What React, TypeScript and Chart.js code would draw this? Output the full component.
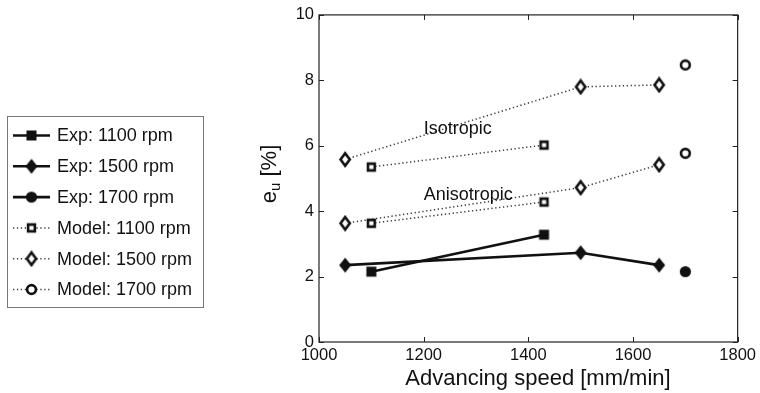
import React, { useEffect, useRef } from "react";
import { Chart, registerables } from "chart.js";

Chart.register(...registerables);

// ---- Data ----
const speedExp1100 = [1100, 1430];
const valExp1100 = [2.15, 3.28];
const speedExp1500 = [1050, 1500, 1650];
const valExp1500 = [2.35, 2.73, 2.35];
const speedExp1700 = [1700];
const valExp1700 = [2.15];

const speedModel1100 = [1100, 1430];
const isoModel1100 = [5.35, 6.02];
const anisoModel1100 = [3.63, 4.28];
const speedModel1500 = [1050, 1500, 1650];
const isoModel1500 = [5.58, 7.8, 7.86];
const anisoModel1500 = [3.63, 4.72, 5.42];
const speedModel1700 = [1700];
const isoModel1700 = [8.47];
const anisoModel1700 = [5.77];

const xTicks = [1000, 1200, 1400, 1600, 1800];
const yTicks = [0, 2, 4, 6, 8, 10];

const legendLabels = [
  "Exp: 1100 rpm",
  "Exp: 1500 rpm",
  "Exp: 1700 rpm",
  "Model: 1100 rpm",
  "Model: 1500 rpm",
  "Model: 1700 rpm",
];

const annotations = [
  { text: "Isotropic", x: 1200, y: 6.5 },
  { text: "Anisotropic", x: 1200, y: 4.5 },
];

const FONT = '"Liberation Sans", Arial, Helvetica, sans-serif';

type Shape = "square" | "diamond" | "circle";

function makeMarker(shape: Shape, filled: boolean): HTMLCanvasElement {
  const c = document.createElement("canvas");
  const w = shape === "diamond" ? 14 : 13;
  const h = shape === "diamond" ? 17 : 13;
  c.width = w;
  c.height = h;
  const ctx = c.getContext("2d")!;
  const cx = w / 2;
  const cy = h / 2;
  ctx.fillStyle = "#111";
  ctx.strokeStyle = "#111";
  ctx.lineWidth = 2.6;
  ctx.beginPath();
  if (shape === "square") {
    if (filled) {
      ctx.rect(cx - 5, cy - 5, 10, 10);
    } else {
      ctx.rect(cx - 3.4, cy - 3.4, 6.8, 6.8);
    }
  } else if (shape === "diamond") {
    const hw = filled ? 6 : 4.6;
    const hh = filled ? 7.4 : 6.2;
    ctx.moveTo(cx, cy - hh);
    ctx.lineTo(cx + hw, cy);
    ctx.lineTo(cx, cy + hh);
    ctx.lineTo(cx - hw, cy);
    ctx.closePath();
  } else {
    ctx.arc(cx, cy, filled ? 5.6 : 4.4, 0, Math.PI * 2);
  }
  if (filled) {
    ctx.fill();
  } else {
    ctx.fillStyle = "#fff";
    ctx.fill();
    ctx.stroke();
  }
  return c;
}

function pts(xs: number[], ys: number[]) {
  return xs.map((x, i) => ({ x, y: ys[i] }));
}

export default function App() {
  const ref = useRef<HTMLCanvasElement | null>(null);

  useEffect(() => {
    if (!ref.current) return;
    const markers = {
      expSquare: makeMarker("square", true),
      expDiamond: makeMarker("diamond", true),
      expCircle: makeMarker("circle", true),
      modSquare: makeMarker("square", false),
      modDiamond: makeMarker("diamond", false),
      modCircle: makeMarker("circle", false),
    };

    const expStyle = (img: HTMLCanvasElement) => ({
      borderColor: "#111",
      borderWidth: 2.6,
      pointStyle: img as any,
      showLine: true,
      tension: 0,
    });
    const modStyle = (img: HTMLCanvasElement) => ({
      borderColor: "#3a3a3a",
      borderWidth: 1.5,
      borderDash: [1.3, 2.6],
      pointStyle: img as any,
      showLine: true,
      tension: 0,
    });

    const legendMarkers = [
      markers.expSquare,
      markers.expDiamond,
      markers.expCircle,
      markers.modSquare,
      markers.modDiamond,
      markers.modCircle,
    ];

    const decor = {
      id: "decor",
      afterDraw(chart: any) {
        const ctx = chart.ctx as CanvasRenderingContext2D;
        const a = chart.chartArea;
        const xs = chart.scales.x;
        const ys = chart.scales.y;
        ctx.save();
        // box
        ctx.strokeStyle = "#222";
        ctx.lineWidth = 1.2;
        ctx.strokeRect(a.left, a.top, a.right - a.left, a.bottom - a.top);
        // inward ticks
        ctx.beginPath();
        xTicks.forEach((v) => {
          const px = Math.round(xs.getPixelForValue(v)) + 0.5;
          ctx.moveTo(px, a.bottom);
          ctx.lineTo(px, a.bottom - 5);
          ctx.moveTo(px, a.top);
          ctx.lineTo(px, a.top + 5);
        });
        yTicks.forEach((v) => {
          const py = Math.round(ys.getPixelForValue(v)) + 0.5;
          ctx.moveTo(a.left, py);
          ctx.lineTo(a.left + 5, py);
          ctx.moveTo(a.right, py);
          ctx.lineTo(a.right - 5, py);
        });
        ctx.lineWidth = 1;
        ctx.stroke();

        // annotations
        ctx.fillStyle = "#111";
        ctx.font = `18px ${FONT}`;
        ctx.textAlign = "left";
        ctx.textBaseline = "middle";
        annotations.forEach((an) => {
          ctx.fillText(an.text, xs.getPixelForValue(an.x), ys.getPixelForValue(an.y));
        });

        // x title
        ctx.font = `22px ${FONT}`;
        ctx.textAlign = "center";
        ctx.fillText("Advancing speed [mm/min]", 538, 379);

        // y title with subscript
        ctx.save();
        ctx.translate(270, 174);
        ctx.rotate(-Math.PI / 2);
        ctx.textAlign = "left";
        ctx.textBaseline = "middle";
        ctx.font = `22px ${FONT}`;
        const wE = ctx.measureText("e").width;
        const wRest = ctx.measureText(" [%]").width;
        ctx.font = `15px ${FONT}`;
        const wU = ctx.measureText("u").width;
        const total = wE + wU + wRest;
        let x0 = -total / 2;
        ctx.font = `22px ${FONT}`;
        ctx.fillText("e", x0, 0);
        x0 += wE;
        ctx.font = `15px ${FONT}`;
        ctx.fillText("u", x0, 6);
        x0 += wU;
        ctx.font = `22px ${FONT}`;
        ctx.fillText(" [%]", x0, 0);
        ctx.restore();

        // legend
        ctx.fillStyle = "#fff";
        ctx.fillRect(7.5, 116.5, 196, 191);
        ctx.strokeStyle = "#777";
        ctx.lineWidth = 1;
        ctx.strokeRect(7.5, 116.5, 196, 191);
        legendLabels.forEach((lab, i) => {
          const y = 135.5 + i * 30.8;
          ctx.save();
          ctx.beginPath();
          ctx.moveTo(13, y);
          ctx.lineTo(50, y);
          if (i < 3) {
            ctx.strokeStyle = "#111";
            ctx.lineWidth = 2.6;
          } else {
            ctx.strokeStyle = "#3a3a3a";
            ctx.lineWidth = 1.5;
            ctx.setLineDash([1.3, 2.6]);
          }
          ctx.stroke();
          ctx.restore();
          const img = legendMarkers[i];
          ctx.drawImage(img, 31.5 - img.width / 2, y - img.height / 2);
          ctx.fillStyle = "#111";
          ctx.font = `18px ${FONT}`;
          ctx.textAlign = "left";
          ctx.textBaseline = "middle";
          ctx.fillText(lab, 57, y + 1);
        });
        ctx.restore();
      },
    };

    const chart = new Chart(ref.current, {
      type: "line",
      data: {
        datasets: [
          { label: "Model 1100 iso", data: pts(speedModel1100, isoModel1100), ...modStyle(markers.modSquare) },
          { label: "Model 1100 aniso", data: pts(speedModel1100, anisoModel1100), ...modStyle(markers.modSquare) },
          { label: "Model 1500 iso", data: pts(speedModel1500, isoModel1500), ...modStyle(markers.modDiamond) },
          { label: "Model 1500 aniso", data: pts(speedModel1500, anisoModel1500), ...modStyle(markers.modDiamond) },
          { label: "Model 1700 iso", data: pts(speedModel1700, isoModel1700), ...modStyle(markers.modCircle) },
          { label: "Model 1700 aniso", data: pts(speedModel1700, anisoModel1700), ...modStyle(markers.modCircle) },
          { label: "Exp 1100", data: pts(speedExp1100, valExp1100), ...expStyle(markers.expSquare) },
          { label: "Exp 1500", data: pts(speedExp1500, valExp1500), ...expStyle(markers.expDiamond) },
          { label: "Exp 1700", data: pts(speedExp1700, valExp1700), ...expStyle(markers.expCircle) },
        ] as any,
      },
      options: {
        responsive: false,
        animation: false,
        layout: { padding: { left: 0, right: 21, top: 13, bottom: 0 } },
        plugins: {
          legend: { display: false },
          tooltip: { enabled: false },
        },
        scales: {
          x: {
            type: "linear",
            min: 1000,
            max: 1800,
            afterBuildTicks: (s: any) => {
              s.ticks = xTicks.map((v) => ({ value: v }));
            },
            afterFit: (s: any) => {
              s.height = 51;
            },
            grid: { display: false, drawTicks: false },
            border: { display: false },
            ticks: {
              color: "#111",
              font: { family: FONT, size: 16.5 },
              padding: 4,
              maxRotation: 0,
              autoSkip: false,
              callback: (v: any) => String(v),
            },
          },
          y: {
            type: "linear",
            min: 0,
            max: 10,
            afterBuildTicks: (s: any) => {
              s.ticks = yTicks.map((v) => ({ value: v }));
            },
            afterFit: (s: any) => {
              s.width = 319;
            },
            grid: { display: false, drawTicks: false },
            border: { display: false },
            ticks: {
              color: "#111",
              font: { family: FONT, size: 16.5 },
              padding: 5,
              autoSkip: false,
              callback: (v: any) => String(v),
            },
          },
        },
      },
      plugins: [decor],
    });
    return () => chart.destroy();
  }, []);

  return (
    <div style={{ position: "absolute", left: 0, top: 0, width: 760, height: 393, background: "#fff" }}>
      <canvas ref={ref} width={760} height={393} style={{ display: "block" }} />
    </div>
  );
}
